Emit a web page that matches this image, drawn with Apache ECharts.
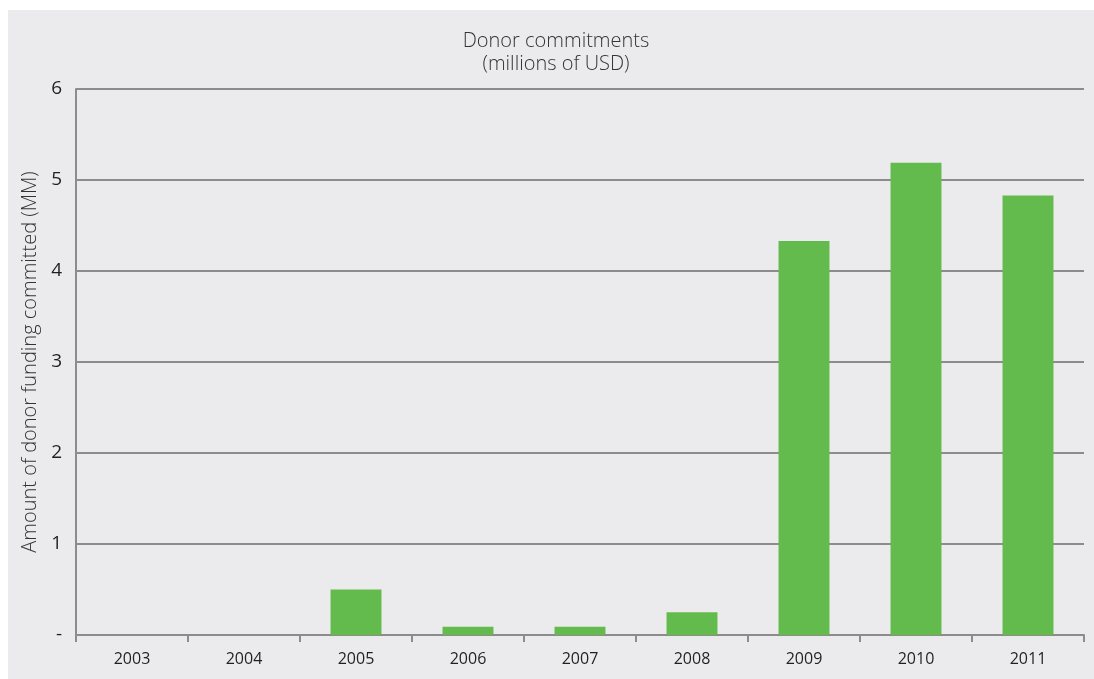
<!DOCTYPE html>
<html>
<head>
<meta charset="utf-8">
<title>Donor commitments</title>
<script src="https://cdn.jsdelivr.net/npm/echarts@6/dist/echarts.min.js"></script>
<style>
  html, body { margin: 0; padding: 0; background: #fff; }
  #chart { width: 1094px; height: 679px; }
</style>
</head>
<body>
<div id="chart"></div>
<script>
// data
const years = ['2003', '2004', '2005', '2006', '2007', '2008', '2009', '2010', '2011']
const commitments = [0, 0, 0.5, 0.09, 0.09, 0.25, 4.33, 5.19, 4.83]
const yTicks = [0, 1, 2, 3, 4, 5, 6]

const axisGray = '#8c8c8c'
const textColor = '#231f20'
const font = '"Open Sans", "Noto Sans", sans-serif'

const chart = echarts.init(document.getElementById('chart'))

chart.setOption({
  backgroundColor: '#ffffff',
  animation: false,
  graphic: [{
    type: 'rect',
    z: -10,
    shape: { x: 8, y: 10, width: 1086, height: 669 },
    style: { fill: '#ebebed' }
  }],
  title: {
    text: 'Donor commitments\n(millions of USD)',
    left: 551,
    top: 25,
    textAlign: 'center',
    textStyle: {
      fontFamily: font,
      fontWeight: 300,
      fontSize: 20,
      lineHeight: 23,
      color: '#333'
    }
  },
  grid: {
    left: 76,
    right: 10,
    top: 89,
    bottom: 44,
    containLabel: false
  },
  xAxis: {
    type: 'category',
    data: years,
    axisLine: { lineStyle: { color: axisGray, width: 2 } },
    axisTick: { show: true, length: 7, lineStyle: { color: axisGray, width: 2 } },
    axisLabel: {
      margin: 16,
      fontFamily: font,
      fontSize: 16,
      color: textColor
    }
  },
  yAxis: {
    type: 'value',
    min: yTicks[0],
    max: yTicks[yTicks.length - 1],
    interval: 1,
    name: 'Amount of donor funding committed (MM)',
    nameLocation: 'middle',
    nameGap: 30,
    nameTextStyle: {
      fontFamily: font,
      fontWeight: 300,
      fontSize: 20,
      color: '#333'
    },
    axisLine: { show: true, lineStyle: { color: axisGray, width: 2 } },
    axisTick: { show: false },
    splitLine: { lineStyle: { color: axisGray, width: 2 } },
    axisLabel: {
      margin: 14,
      fontFamily: font,
      fontSize: 19,
      color: textColor,
      formatter: v => (v === 0 ? '-' : v)
    }
  },
  series: [{
    name: 'Donor commitments',
    type: 'bar',
    data: commitments,
    barWidth: '45.5%',
    itemStyle: { color: '#63bb4d' }
  }]
})
</script>
</body>
</html>
